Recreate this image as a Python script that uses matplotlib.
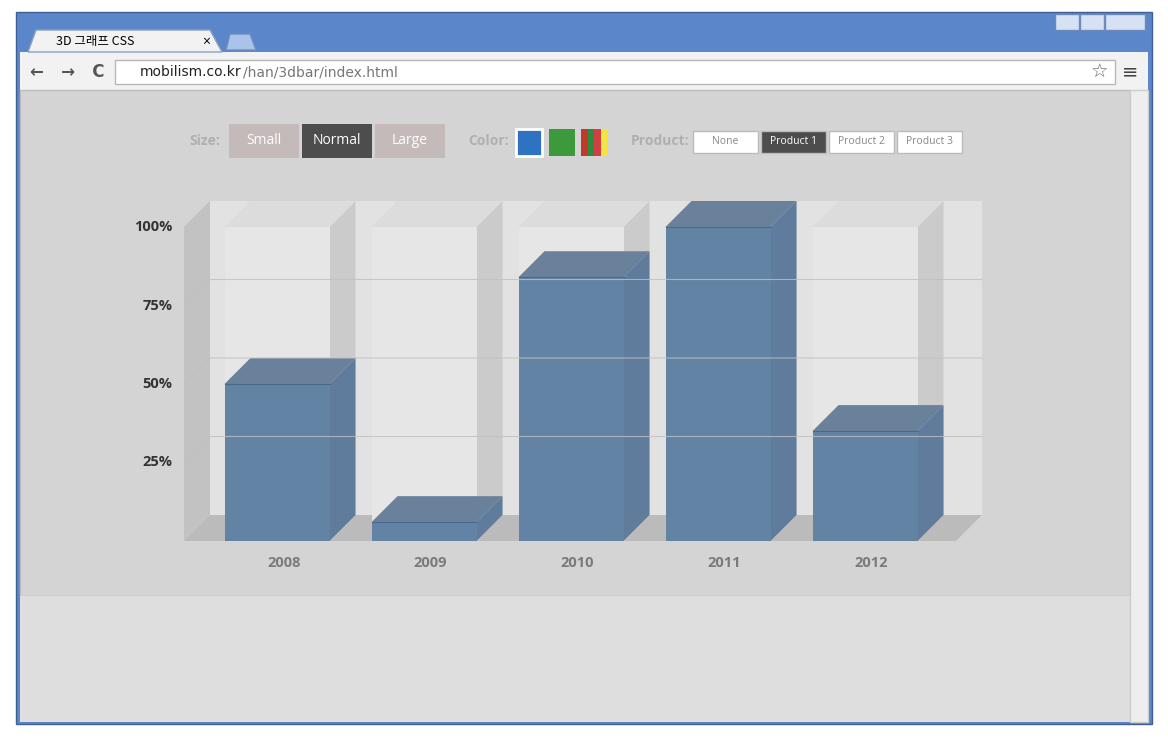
import matplotlib
matplotlib.use("Agg")
import matplotlib.pyplot as plt
from matplotlib.patches import Rectangle, Polygon

plt.rcParams['font.family'] = ['Open Sans', 'Noto Sans CJK KR', 'DejaVu Sans']

years = ['2008', '2009', '2010', '2011', '2012']
values = [50, 6, 84, 100, 35]
ytick_vals = [25, 50, 75, 100]
ytick_labels = ['25%', '50%', '75%', '100%']

W, H = 1168, 741
fig = plt.figure(figsize=(W/100, H/100), dpi=100)
bg = fig.add_axes([0, 0, 1, 1])
bg.set_xlim(0, W); bg.set_ylim(H, 0); bg.axis('off')

# browser chrome
bg.add_patch(Rectangle((16, 12), 1136, 712, fc='#5b86c9', ec='#3d5f96'))
bg.add_patch(Rectangle((20, 52), 1128, 38, fc='#f2f2f2', ec='none'))
bg.add_patch(Polygon([(28, 52), (36, 30), (210, 30), (222, 52)], fc='#f2f2f2', ec='#8aa0c0'))
bg.add_patch(Polygon([(226, 50), (230, 34), (250, 34), (256, 50)], fc='#a9c3ea', ec='#6f8fbf'))
bg.text(56, 42, '3D 그래프 CSS', fontsize=9, va='center', family=['Noto Sans CJK KR', 'DejaVu Sans'])
bg.text(206, 42, '×', fontsize=10, va='center', ha='center')
bg.add_patch(Rectangle((115, 60), 1000, 24, fc='white', ec='#b8b8b8'))
bg.text(140, 72, 'mobilism.co.kr', fontsize=10, va='center', color='#222', family='DejaVu Sans')
bg.text(243, 72, '/han/3dbar/index.html', fontsize=10, va='center', color='#777', family='DejaVu Sans')
bg.text(30, 72, '←   →   C', fontsize=12, va='center', color='#555', family='DejaVu Sans', fontweight='bold')
bg.text(1130, 72, '≡', fontsize=14, va='center', ha='center', color='#444', family='DejaVu Sans')
bg.text(1099, 72, '☆', fontsize=14, va='center', ha='center', color='#666', family='DejaVu Sans')
for x0, w in [(1055, 24), (1080, 24), (1105, 40)]:
    bg.add_patch(Rectangle((x0, 14), w, 16, fc='#d6e2f3', ec='#6d8ab8'))
bg.add_patch(Rectangle((20, 90), 1110, 506, fc='#d4d4d4', ec='#bdbdbd'))
bg.add_patch(Rectangle((20, 596), 1110, 126, fc='#dedede', ec='none'))
bg.add_patch(Rectangle((1130, 90), 18, 632, fc='#eeeeee', ec='#cccccc'))

# controls
lab = dict(fontsize=10, fontweight='bold', color='#b0b0b0', va='center')
bg.text(189, 141, 'Size:', **lab)
for x0, w, t, dark in [(229, 70, 'Small', False), (302, 70, 'Normal', True), (375, 70, 'Large', False)]:
    bg.add_patch(Rectangle((x0, 124), w, 34, fc='#4d4d4d' if dark else '#c4baba', ec='none'))
    bg.text(x0 + w/2, 141, t, ha='center', va='center', fontsize=10, color='white')
bg.text(468, 141, 'Color:', **lab)
bg.add_patch(Rectangle((516, 129), 26, 27, fc='#2d73c2', ec='white', lw=2))
bg.add_patch(Rectangle((549, 129), 26, 27, fc='#3c9a3c', ec='none'))
for i, c in enumerate(['#c0392b', '#2e8b3e', '#d04040', '#f4e542']):
    bg.add_patch(Rectangle((581 + i*6.5, 129), 6.5, 27, fc=c, ec='none'))
bg.text(631, 141, 'Product:', **lab)
for x0, t, dark in [(693, 'None', False), (761, 'Product 1', True), (829, 'Product 2', False), (897, 'Product 3', False)]:
    bg.add_patch(Rectangle((x0, 131), 65, 22, fc='#4d4d4d' if dark else 'white', ec='#bbbbbb'))
    bg.text(x0 + 32.5, 142, t, ha='center', va='center', fontsize=7.5, color='white' if dark else '#888')

# chart axes: x in category index, y in percent
px0, px1, py0, py1 = 130, 1000, 190, 560
ax = fig.add_axes([px0/W, (H-py1)/H, (px1-px0)/W, (py1-py0)/H])
ax.set_xlim((px0-277)/147, (px1-277)/147)
ax.set_ylim((541-py1)/3.14, (541-py0)/3.14)
ax.axis('off')
dx, dy = 26/147, 26/3.14
bw = 105/147
L = (184-277)/147
R = (956-277)/147

ax.add_patch(Polygon([(L+dx, dy), (R+dx, dy), (R+dx, 100+dy), (L+dx, 100+dy)], fc='#e2e2e2', ec='none'))
ax.add_patch(Polygon([(L, 0), (L+dx, dy), (L+dx, 100+dy), (L, 100)], fc='#c2c2c2', ec='none'))
ax.add_patch(Polygon([(L, 0), (R, 0), (R+dx, dy), (L+dx, dy)], fc='#bbbbbb', ec='none'))

for i, (y, v) in enumerate(zip(years, values)):
    x0, x1 = i - bw/2, i + bw/2
    ax.add_patch(Polygon([(x1, 0), (x1+dx, dy), (x1+dx, 100+dy), (x1, 100)], fc='#cbcbcb', ec='none'))
    ax.add_patch(Polygon([(x0, 100), (x1, 100), (x1+dx, 100+dy), (x0+dx, 100+dy)], fc='#dcdcdc', ec='none'))
    ax.add_patch(Rectangle((x0, 0), bw, 100, fc='#e6e6e6', ec='none'))

for v in ytick_vals[:-1]:
    ax.plot([L, L+dx, R+dx], [v, v+dy, v+dy], color='#c0c0c0', lw=0.8, alpha=0.8)

for i, (y, v) in enumerate(zip(years, values)):
    x0, x1 = i - bw/2, i + bw/2
    ax.add_patch(Polygon([(x1, 0), (x1+dx, dy), (x1+dx, v+dy), (x1, v)], fc='#5f7c9c', ec='none'))
    ax.add_patch(Polygon([(x0, v), (x1, v), (x1+dx, v+dy), (x0+dx, v+dy)], fc='#6a819b', ec='none'))
    ax.add_patch(Rectangle((x0, 0), bw, v, fc='#6383a4', ec='none'))
    ax.plot([x0, x1], [v, v], color='#4d6787', lw=0.8)
    ax.text(i + 0.045, -7, y, ha='center', va='center', fontsize=10.5, fontweight='bold', color='#7a7a7a')

for v, t in zip(ytick_vals, ytick_labels):
    ax.text(L - 0.08, v, t, ha='right', va='center', fontsize=10.5, fontweight='bold', color='#333')

fig.savefig('out.png', dpi=100)
